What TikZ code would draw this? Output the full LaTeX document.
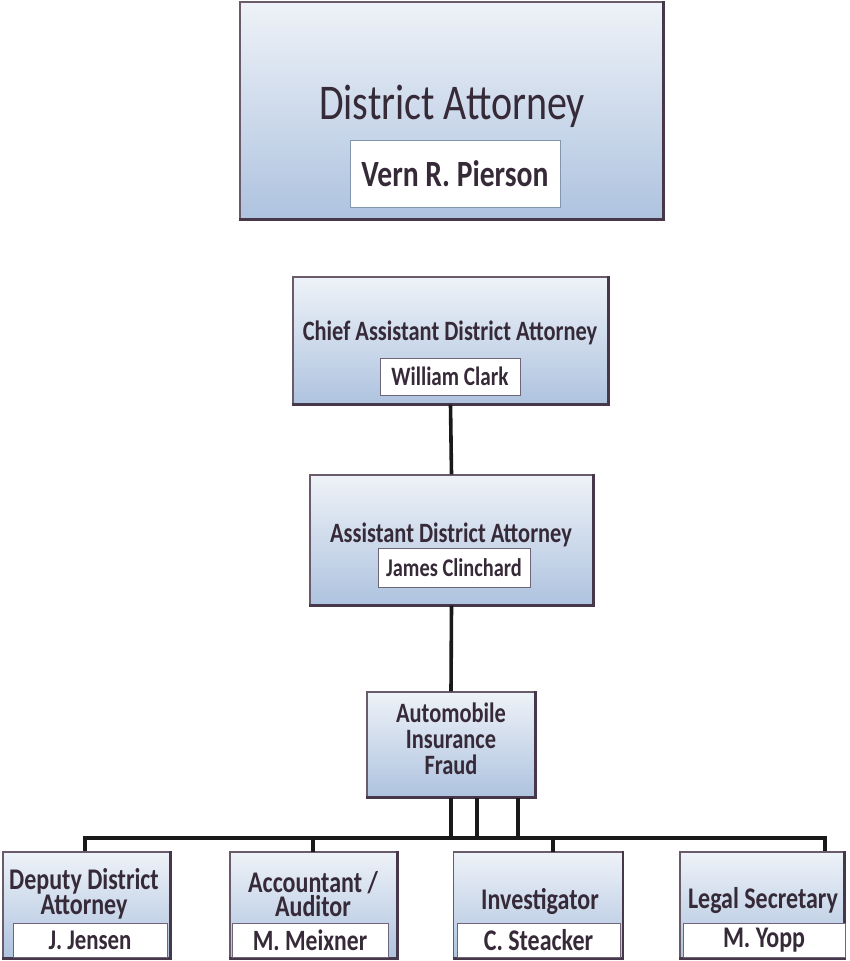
\documentclass[tikz,border=0pt]{standalone}
\usepackage{fontspec}
\setmainfont[FakeStretch=0.8]{Carlito}
\usetikzlibrary{calc}
\definecolor{edgec}{HTML}{6A5B6A}
\definecolor{edgedark}{HTML}{46384A}
\definecolor{filltop}{HTML}{EEF2F8}
\definecolor{fillbot}{HTML}{AEC3DF}
\definecolor{txt}{HTML}{362A38}
\definecolor{namee}{HTML}{6E6678}
\definecolor{nameblue}{HTML}{8296AD}
\tikzset{
  orgbox/.style={rectangle, draw=edgec, line width=1.3pt, top color=filltop, bottom color=fillbot, inner sep=0pt},
  namebox/.style={rectangle, draw=namee, line width=1pt, fill=white, inner sep=0pt, text=txt},
  lbl/.style={inner sep=0pt, text=txt, align=center},
  conn/.style={draw=black!90, line width=3.6pt}
}
\begin{document}
\begin{tikzpicture}[x=1pt,y=-1pt]
\useasboundingbox (0,0) rectangle (850,961);
% boxes
\node[orgbox, minimum width=423pt, minimum height=217pt] (da) at (451.5,110.5) {};
\node[orgbox, minimum width=315pt, minimum height=127pt] (cada) at (450.5,340.5) {};
\node[orgbox, minimum width=283pt, minimum height=130pt] (ada) at (451.5,540) {};
\node[orgbox, minimum width=168pt, minimum height=105pt] (aif) at (451,744.5) {};
\node[orgbox, minimum width=167pt, minimum height=106pt] (dda) at (86.5,905) {};
\node[orgbox, minimum width=167pt, minimum height=106pt] (acc) at (313.5,905) {};
\node[orgbox, minimum width=169pt, minimum height=106pt] (inv) at (538,905) {};
\node[orgbox, minimum width=164pt, minimum height=106pt] (sec) at (762,905) {};
% shadow edges
\foreach \n in {da,cada,ada,aif,dda,acc,inv,sec}{
  \draw[edgedark, line width=2.4pt] (\n.north east) -- (\n.south east) -- (\n.south west);
}
% titles
\node[lbl, font=\fontsize{50}{56}\selectfont] (dat) at (452,106) {District Attorney};
\node[namebox, minimum width=210pt, minimum height=67pt, draw=nameblue, font=\fontsize{37}{42}\selectfont\bfseries] (dan) at (455,173.5) {Vern R. Pierson};
\node[lbl, font=\fontsize{28}{32}\selectfont\bfseries] (cadat) at (450,333) {Chief Assistant District Attorney};
\node[namebox, minimum width=140pt, minimum height=37pt, font=\fontsize{26.5}{30}\selectfont\bfseries] (cadan) at (450,376.5) {William Clark};
\node[lbl, font=\fontsize{28}{32}\selectfont\bfseries] (adat) at (451,535) {Assistant District Attorney};
\node[namebox, minimum width=152pt, minimum height=39pt, font=\fontsize{25.5}{28}\selectfont\bfseries] (adan) at (454,567.5) {James Clinchard};
\node[lbl, font=\fontsize{28}{26}\selectfont\bfseries] (aift) at (451,739) {Automobile\\Insurance\\Fraud};
\node[lbl, font=\fontsize{30}{20}\selectfont\bfseries] (ddat) at (84,894) {Deputy District\\Attorney};
\node[namebox, minimum width=154pt, minimum height=34pt, font=\fontsize{28.5}{30}\selectfont\bfseries] (ddan) at (90,940) {J. Jensen};
\node[lbl, font=\fontsize{30}{20}\selectfont\bfseries] (acct) at (313,894) {Accountant /\\Auditor};
\node[namebox, minimum width=156pt, minimum height=34pt, font=\fontsize{29.5}{30}\selectfont\bfseries] (accn) at (310,940) {M. Meixner};
\node[lbl, font=\fontsize{30}{30}\selectfont\bfseries] (invt) at (540,901) {Investigator};
\node[namebox, minimum width=163pt, minimum height=34pt, font=\fontsize{30}{30}\selectfont\bfseries] (invn) at (538.5,940) {C. Steacker};
\node[lbl, font=\fontsize{30}{30}\selectfont\bfseries] (sect) at (763,901) {Legal Secretary};
\node[namebox, minimum width=162pt, minimum height=34pt, font=\fontsize{30}{30}\selectfont\bfseries] (secn) at (764,940) {M. Yopp};
% connectors
\coordinate (busL) at (85,838);
\coordinate (busR) at (825,838);
\draw[conn] (cada.south) -- (ada.north);
\draw[conn] (ada.south) -- (aif.north);
\draw[conn] (aif.south) -- (aif.south |- busL);
\draw[conn] ([xshift=26pt]aif.south) -- ([xshift=26pt]aif.south |- busL);
\draw[conn] ([xshift=67pt]aif.south) -- ([xshift=67pt]aif.south |- busL);
\draw[conn, line cap=rect] (busL) -- (busR);
\draw[conn] (busL) -- (busL |- dda.north);
\draw[conn] (313,838) -- (313,852);
\draw[conn] (553,838) -- (553,852);
\draw[conn] (busR) -- (busR |- sec.north);
\end{tikzpicture}
\end{document}
